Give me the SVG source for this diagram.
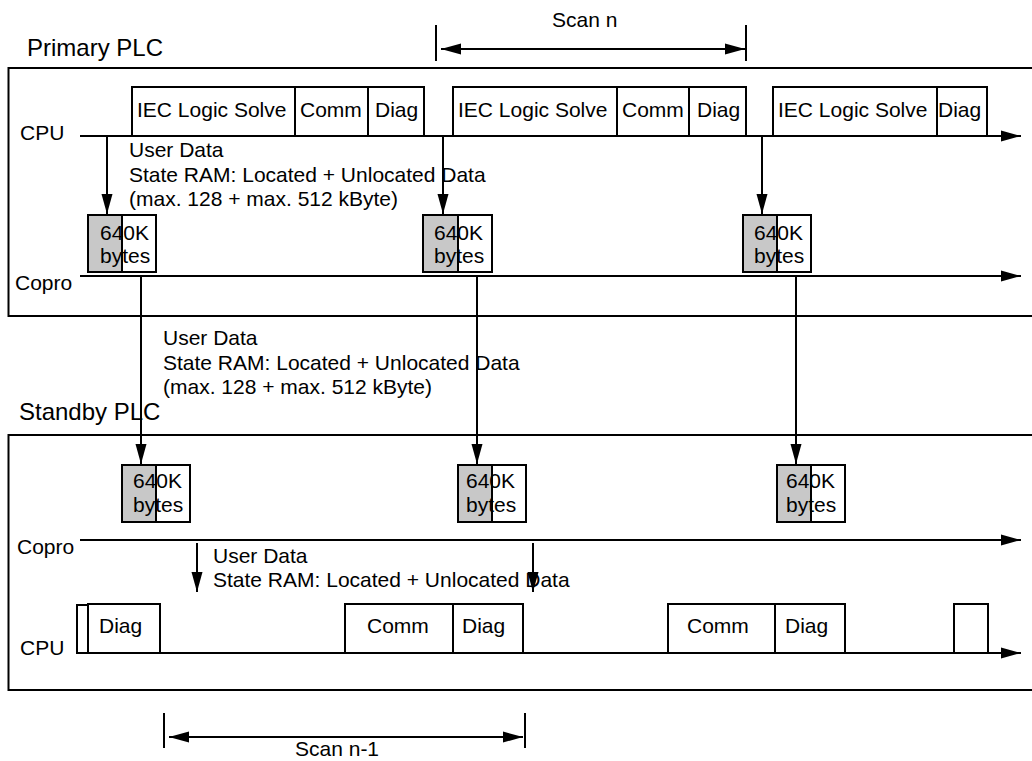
<svg xmlns="http://www.w3.org/2000/svg" width="1032" height="761" viewBox="0 0 1032 761">
<style>
text{font-family:"Liberation Sans",Arial,sans-serif;font-size:21px;fill:#000}
.t{font-size:24px}
.b{fill:#fff;stroke:#000;stroke-width:2}
.g{fill:#c8c8c8;stroke:#000;stroke-width:2}
.ln{fill:none;stroke:#000;stroke-width:2}
.a{marker-end:url(#ah)}
.d{marker-start:url(#ah);marker-end:url(#ah)}
</style>
<defs>
<marker id="ah" markerUnits="userSpaceOnUse" markerWidth="20" markerHeight="12" refX="20" refY="6" orient="auto-start-reverse">
<path d="M0,0.5 L20,6 L0,11.5 z" fill="#000"/>
</marker>
</defs>
<rect x="0" y="0" width="1032" height="761" fill="#fff"/>

<g id="primary-plc">
<rect class="ln" x="8.5" y="68" width="1040" height="248"/>
<text class="t" x="27" y="56">Primary PLC</text>
<text x="20" y="140">CPU</text>
<text x="15" y="290">Copro</text>
</g>

<g id="standby-plc">
<rect class="ln" x="8.5" y="435" width="1040" height="255"/>
<text class="t" x="19" y="420">Standby PLC</text>
<text x="17" y="554">Copro</text>
<text x="20" y="655">CPU</text>
</g>

<g id="p-cpu-scan1">
<rect class="b" x="132" y="87" width="163" height="49"/>
<rect class="b" x="295" y="87" width="73" height="49"/>
<rect class="b" x="368" y="87" width="56" height="49"/>
<text x="137" y="117">IEC Logic Solve</text>
<text x="300" y="117">Comm</text>
<text x="375" y="117">Diag</text>
</g>
<g id="p-cpu-scan2">
<rect class="b" x="453" y="87" width="164" height="49"/>
<rect class="b" x="617" y="87" width="72" height="49"/>
<rect class="b" x="689" y="87" width="57" height="49"/>
<text x="458" y="117">IEC Logic Solve</text>
<text x="622" y="117">Comm</text>
<text x="697" y="117">Diag</text>
</g>
<g id="p-cpu-scan3">
<rect class="b" x="773" y="87" width="164" height="49"/>
<rect class="b" x="937" y="87" width="50" height="49"/>
<text x="778" y="117">IEC Logic Solve</text>
<text x="938" y="117">Diag</text>
</g>

<g id="p-mem1">
<rect class="g" x="88" y="215" width="34" height="57"/>
<rect class="b" x="122" y="215" width="34" height="57"/>
<text x="100" y="240">640K</text>
<text x="100" y="263">bytes</text>
</g>
<g id="p-mem2">
<rect class="g" x="423" y="215" width="35" height="57"/>
<rect class="b" x="458" y="215" width="34" height="57"/>
<text x="434" y="240">640K</text>
<text x="434" y="263">bytes</text>
</g>
<g id="p-mem3">
<rect class="g" x="743" y="215" width="34" height="57"/>
<rect class="b" x="777" y="215" width="34" height="57"/>
<text x="754" y="240">640K</text>
<text x="754" y="263">bytes</text>
</g>

<g id="s-mem1">
<rect class="g" x="122" y="465" width="34" height="57"/>
<rect class="b" x="156" y="465" width="34" height="57"/>
<text x="133" y="488">640K</text>
<text x="133" y="512">bytes</text>
</g>
<g id="s-mem2">
<rect class="g" x="458" y="465" width="34" height="57"/>
<rect class="b" x="492" y="465" width="34" height="57"/>
<text x="466" y="488">640K</text>
<text x="466" y="512">bytes</text>
</g>
<g id="s-mem3">
<rect class="g" x="777" y="465" width="34" height="57"/>
<rect class="b" x="811" y="465" width="34" height="57"/>
<text x="786" y="488">640K</text>
<text x="786" y="512">bytes</text>
</g>

<g id="s-cpu-scan1">
<rect class="b" x="77" y="605" width="11" height="48"/>
<rect class="b" x="88" y="604" width="72" height="49"/>
<text x="99" y="633">Diag</text>
</g>
<g id="s-cpu-scan2">
<rect class="b" x="345" y="604" width="108" height="49"/>
<rect class="b" x="453" y="604" width="70" height="49"/>
<text x="367" y="633">Comm</text>
<text x="462" y="633">Diag</text>
</g>
<g id="s-cpu-scan3">
<rect class="b" x="668" y="604" width="107" height="49"/>
<rect class="b" x="775" y="604" width="70" height="49"/>
<text x="687" y="633">Comm</text>
<text x="785" y="633">Diag</text>
</g>
<g id="s-cpu-scan4">
<rect class="b" x="954" y="604" width="34" height="49"/>
</g>

<g id="labels">
<text x="129" y="157">User Data</text>
<text x="129" y="182">State RAM: Located + Unlocated Data</text>
<text x="129" y="206">(max. 128 + max. 512 kByte)</text>
<text x="163" y="345">User Data</text>
<text x="163" y="370">State RAM: Located + Unlocated Data</text>
<text x="163" y="394">(max. 128 + max. 512 kByte)</text>
<text x="213" y="563">User Data</text>
<text x="213" y="587">State RAM: Located + Unlocated Data</text>
<text x="552" y="27">Scan n</text>
<text x="295" y="756">Scan n-1</text>
</g>

<g id="connectors">
<line class="ln a" x1="80" y1="136" x2="1021" y2="136"/>
<line class="ln a" x1="80" y1="276" x2="1021" y2="276"/>
<line class="ln a" x1="80" y1="540" x2="1021" y2="540"/>
<line class="ln a" x1="77" y1="653" x2="1021" y2="653"/>
<line class="ln a" x1="107" y1="136" x2="107" y2="214"/>
<line class="ln a" x1="443" y1="136" x2="443" y2="214"/>
<line class="ln a" x1="762" y1="136" x2="762" y2="214"/>
<line class="ln a" x1="141" y1="276" x2="141" y2="464"/>
<line class="ln a" x1="477" y1="276" x2="477" y2="464"/>
<line class="ln a" x1="796" y1="276" x2="796" y2="464"/>
<line class="ln a" x1="197" y1="543" x2="197" y2="592"/>
<line class="ln a" x1="533" y1="543" x2="533" y2="592"/>
<line class="ln" x1="436" y1="25" x2="436" y2="61"/>
<line class="ln" x1="746" y1="25" x2="746" y2="61"/>
<line class="ln d" x1="441" y1="49" x2="745" y2="49"/>
<line class="ln" x1="164" y1="713" x2="164" y2="748"/>
<line class="ln" x1="525" y1="713" x2="525" y2="748"/>
<line class="ln d" x1="169" y1="737" x2="523" y2="737"/>
</g>
</svg>
